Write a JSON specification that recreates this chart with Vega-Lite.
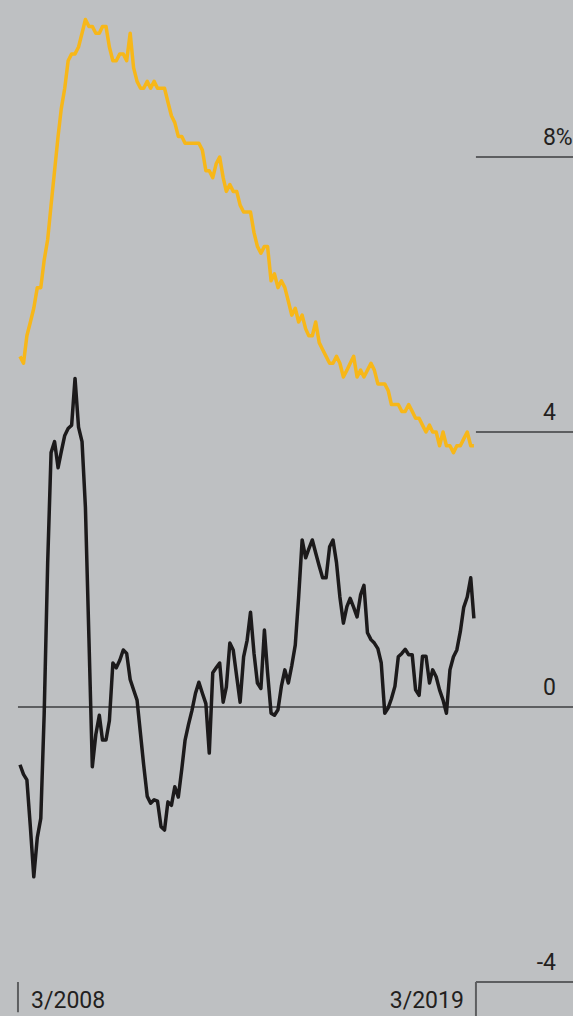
{
  "$schema": "https://vega.github.io/schema/vega-lite/v6.json",
  "width": 573,
  "height": 1016,
  "padding": 0,
  "autosize": {"type": "none"},
  "background": "#bec0c2",
  "config": {"view": {"stroke": null}, "text": {"font": "Roboto", "fontSize": 23, "color": "#231f20"}},
  "datasets": {
    "series": [
      {"d":"2008-03-01","u":5.1,"w":-0.84},{"d":"2008-04-01","u":5.0,"w":-0.98},{"d":"2008-05-01","u":5.4,"w":-1.06},{"d":"2008-06-01","u":5.6,"w":-1.75},{"d":"2008-07-01","u":5.8,"w":-2.47},{"d":"2008-08-01","u":6.1,"w":-1.9},{"d":"2008-09-01","u":6.1,"w":-1.62},{"d":"2008-10-01","u":6.5,"w":-0.1},{"d":"2008-11-01","u":6.8,"w":2.1},{"d":"2008-12-01","u":7.3,"w":3.7},
      {"d":"2009-01-01","u":7.8,"w":3.86},{"d":"2009-02-01","u":8.3,"w":3.48},{"d":"2009-03-01","u":8.7,"w":3.71},{"d":"2009-04-01","u":9.0,"w":3.95},{"d":"2009-05-01","u":9.4,"w":4.05},{"d":"2009-06-01","u":9.5,"w":4.10},{"d":"2009-07-01","u":9.5,"w":4.78},{"d":"2009-08-01","u":9.6,"w":4.07},{"d":"2009-09-01","u":9.8,"w":3.86},{"d":"2009-10-01","u":10.0,"w":2.9},{"d":"2009-11-01","u":9.9,"w":1.0},{"d":"2009-12-01","u":9.9,"w":-0.87},
      {"d":"2010-01-01","u":9.8,"w":-0.4},{"d":"2010-02-01","u":9.8,"w":-0.12},{"d":"2010-03-01","u":9.9,"w":-0.48},{"d":"2010-04-01","u":9.9,"w":-0.48},{"d":"2010-05-01","u":9.6,"w":-0.2},{"d":"2010-06-01","u":9.4,"w":0.64},{"d":"2010-07-01","u":9.4,"w":0.57},{"d":"2010-08-01","u":9.5,"w":0.68},{"d":"2010-09-01","u":9.5,"w":0.83},{"d":"2010-10-01","u":9.4,"w":0.78},{"d":"2010-11-01","u":9.8,"w":0.4},{"d":"2010-12-01","u":9.3,"w":0.25},
      {"d":"2011-01-01","u":9.1,"w":0.1},{"d":"2011-02-01","u":9.0,"w":-0.4},{"d":"2011-03-01","u":9.0,"w":-0.85},{"d":"2011-04-01","u":9.1,"w":-1.3},{"d":"2011-05-01","u":9.0,"w":-1.40},{"d":"2011-06-01","u":9.1,"w":-1.35},{"d":"2011-07-01","u":9.0,"w":-1.37},{"d":"2011-08-01","u":9.0,"w":-1.74},{"d":"2011-09-01","u":9.0,"w":-1.79},{"d":"2011-10-01","u":8.8,"w":-1.38},{"d":"2011-11-01","u":8.6,"w":-1.43},{"d":"2011-12-01","u":8.5,"w":-1.16},
      {"d":"2012-01-01","u":8.3,"w":-1.31},{"d":"2012-02-01","u":8.3,"w":-0.9},{"d":"2012-03-01","u":8.2,"w":-0.48},{"d":"2012-04-01","u":8.2,"w":-0.25},{"d":"2012-05-01","u":8.2,"w":-0.05},{"d":"2012-06-01","u":8.2,"w":0.2},{"d":"2012-07-01","u":8.2,"w":0.36},{"d":"2012-08-01","u":8.1,"w":0.2},{"d":"2012-09-01","u":7.8,"w":0.05},{"d":"2012-10-01","u":7.8,"w":-0.67},{"d":"2012-11-01","u":7.7,"w":0.5},{"d":"2012-12-01","u":7.9,"w":0.57},
      {"d":"2013-01-01","u":8.0,"w":0.64},{"d":"2013-02-01","u":7.7,"w":0.07},{"d":"2013-03-01","u":7.5,"w":0.29},{"d":"2013-04-01","u":7.6,"w":0.93},{"d":"2013-05-01","u":7.5,"w":0.83},{"d":"2013-06-01","u":7.5,"w":0.44},{"d":"2013-07-01","u":7.3,"w":0.07},{"d":"2013-08-01","u":7.2,"w":0.73},{"d":"2013-09-01","u":7.2,"w":0.97},{"d":"2013-10-01","u":7.2,"w":1.38},{"d":"2013-11-01","u":6.9,"w":0.78},{"d":"2013-12-01","u":6.7,"w":0.35},
      {"d":"2014-01-01","u":6.6,"w":0.27},{"d":"2014-02-01","u":6.7,"w":1.12},{"d":"2014-03-01","u":6.7,"w":0.5},{"d":"2014-04-01","u":6.2,"w":-0.09},{"d":"2014-05-01","u":6.3,"w":-0.12},{"d":"2014-06-01","u":6.1,"w":-0.04},{"d":"2014-07-01","u":6.2,"w":0.3},{"d":"2014-08-01","u":6.1,"w":0.54},{"d":"2014-09-01","u":5.9,"w":0.35},{"d":"2014-10-01","u":5.7,"w":0.6},{"d":"2014-11-01","u":5.8,"w":0.9},{"d":"2014-12-01","u":5.6,"w":1.6},
      {"d":"2015-01-01","u":5.7,"w":2.43},{"d":"2015-02-01","u":5.5,"w":2.17},{"d":"2015-03-01","u":5.4,"w":2.3},{"d":"2015-04-01","u":5.4,"w":2.43},{"d":"2015-05-01","u":5.6,"w":2.24},{"d":"2015-06-01","u":5.3,"w":2.05},{"d":"2015-07-01","u":5.2,"w":1.88},{"d":"2015-08-01","u":5.1,"w":1.88},{"d":"2015-09-01","u":5.0,"w":2.33},{"d":"2015-10-01","u":5.0,"w":2.43},{"d":"2015-11-01","u":5.1,"w":2.1},{"d":"2015-12-01","u":5.0,"w":1.6},
      {"d":"2016-01-01","u":4.8,"w":1.22},{"d":"2016-02-01","u":4.9,"w":1.46},{"d":"2016-03-01","u":5.0,"w":1.58},{"d":"2016-04-01","u":5.1,"w":1.45},{"d":"2016-05-01","u":4.8,"w":1.31},{"d":"2016-06-01","u":4.9,"w":1.63},{"d":"2016-07-01","u":4.8,"w":1.77},{"d":"2016-08-01","u":4.9,"w":1.08},{"d":"2016-09-01","u":5.0,"w":0.98},{"d":"2016-10-01","u":4.9,"w":0.93},{"d":"2016-11-01","u":4.7,"w":0.85},{"d":"2016-12-01","u":4.7,"w":0.64},
      {"d":"2017-01-01","u":4.7,"w":-0.09},{"d":"2017-02-01","u":4.6,"w":-0.01},{"d":"2017-03-01","u":4.4,"w":0.12},{"d":"2017-04-01","u":4.4,"w":0.3},{"d":"2017-05-01","u":4.4,"w":0.73},{"d":"2017-06-01","u":4.3,"w":0.78},{"d":"2017-07-01","u":4.3,"w":0.84},{"d":"2017-08-01","u":4.4,"w":0.76},{"d":"2017-09-01","u":4.3,"w":0.76},{"d":"2017-10-01","u":4.2,"w":0.25},{"d":"2017-11-01","u":4.2,"w":0.17},{"d":"2017-12-01","u":4.1,"w":0.74},
      {"d":"2018-01-01","u":4.0,"w":0.74},{"d":"2018-02-01","u":4.1,"w":0.35},{"d":"2018-03-01","u":4.0,"w":0.54},{"d":"2018-04-01","u":4.0,"w":0.44},{"d":"2018-05-01","u":3.8,"w":0.25},{"d":"2018-06-01","u":4.0,"w":0.1},{"d":"2018-07-01","u":3.8,"w":-0.09},{"d":"2018-08-01","u":3.8,"w":0.54},{"d":"2018-09-01","u":3.7,"w":0.73},{"d":"2018-10-01","u":3.8,"w":0.83},{"d":"2018-11-01","u":3.8,"w":1.1},{"d":"2018-12-01","u":3.9,"w":1.45},
      {"d":"2019-01-01","u":4.0,"w":1.6},{"d":"2019-02-01","u":3.8,"w":1.88},{"d":"2019-03-01","u":3.8,"w":1.29}
    ],
    "grid": [
      {"v":8,"a":"2019-03-19","b":"2021-07-25"},
      {"v":4,"a":"2019-03-19","b":"2021-07-25"},
      {"v":-4,"a":"2019-03-19","b":"2021-07-25"},
      {"v":0,"a":"2008-02-12","b":"2021-07-25"}
    ],
    "ticks": [
      {"a":"2008-02-12","v":-4.0,"w":-4.44},
      {"a":"2019-03-19","v":-4.0,"w":-4.5}
    ]
  },
  "layer": [
    {
      "data": {"name": "grid"},
      "mark": {"type": "rule", "color": "#5d5e60", "strokeWidth": 2},
      "encoding": {
        "x": {"field": "a", "type": "temporal", "axis": null, "scale": {"domain": [{"year":2007,"month":9,"date":6,"utc":true},{"year":2021,"month":7,"date":25,"utc":true}]}},
        "x2": {"field": "b"},
        "y": {"field": "v", "type": "quantitative", "axis": null, "scale": {"domain": [-4.4945, 10.284], "nice": false, "zero": false}}
      }
    },
    {
      "data": {"name": "ticks"},
      "mark": {"type": "rule", "color": "#5d5e60", "strokeWidth": 2},
      "encoding": {
        "x": {"field": "a", "type": "temporal"},
        "y": {"field": "v", "type": "quantitative"},
        "y2": {"field": "w"}
      }
    },
    {
      "data": {"name": "series"},
      "mark": {"type": "line", "color": "#f7b719", "strokeWidth": 3.5, "strokeJoin": "round"},
      "encoding": {
        "x": {"field": "d", "type": "temporal"},
        "y": {"field": "u", "type": "quantitative"}
      }
    },
    {
      "data": {"name": "series"},
      "mark": {"type": "line", "color": "#1c1a1b", "strokeWidth": 3.5, "strokeJoin": "round"},
      "encoding": {
        "x": {"field": "d", "type": "temporal"},
        "y": {"field": "w", "type": "quantitative"}
      }
    },
    {
      "data": {"values": [{"t":"4","v":4},{"t":"0","v":0},{"t":"-4","v":-4}]},
      "mark": {"type": "text", "align": "right", "baseline": "alphabetic", "dy": -12},
      "encoding": {
        "x": {"datum": {"year":2021,"month":2,"date":24,"utc":true}, "type": "temporal"},
        "y": {"field": "v", "type": "quantitative"},
        "text": {"field": "t"}
      }
    },
    {
      "data": {"values": [{"t":"8%","v":8}]},
      "mark": {"type": "text", "align": "left", "baseline": "alphabetic", "dy": -12},
      "encoding": {
        "x": {"datum": {"year":2020,"month":11,"date":1,"utc":true}, "type": "temporal"},
        "y": {"field": "v", "type": "quantitative"},
        "text": {"field": "t"}
      }
    },
    {
      "data": {"values": [{"t":"3/2008","v":-4}]},
      "mark": {"type": "text", "align": "left", "baseline": "alphabetic", "dy": 26},
      "encoding": {
        "x": {"datum": {"year":2008,"month":6,"date":7,"utc":true}, "type": "temporal"},
        "y": {"field": "v", "type": "quantitative"},
        "text": {"field": "t"}
      }
    },
    {
      "data": {"values": [{"t":"3/2019","v":-4}]},
      "mark": {"type": "text", "align": "right", "baseline": "alphabetic", "dy": 26},
      "encoding": {
        "x": {"datum": {"year":2018,"month":12,"date":2,"utc":true}, "type": "temporal"},
        "y": {"field": "v", "type": "quantitative"},
        "text": {"field": "t"}
      }
    }
  ]
}
